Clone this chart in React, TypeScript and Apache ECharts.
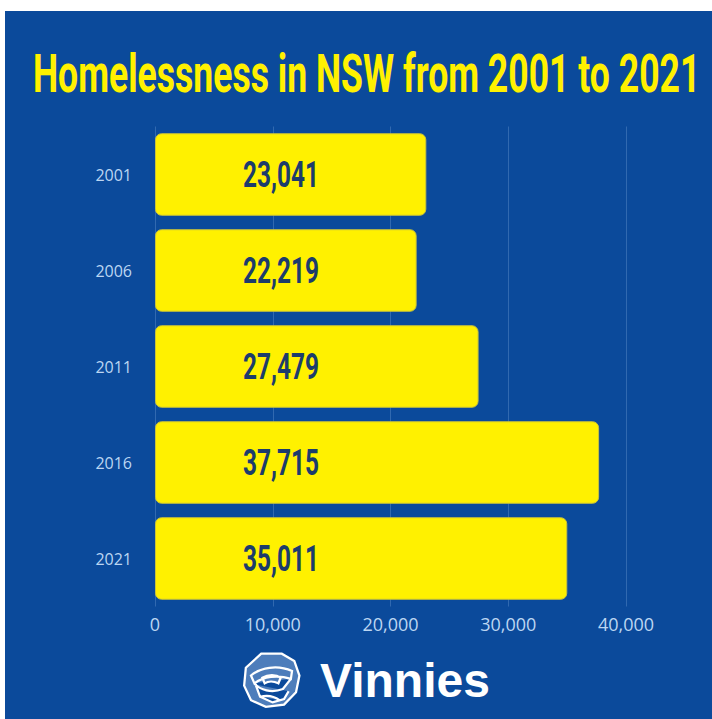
import React, { useEffect, useRef } from "react";
import * as echarts from "echarts";

const years = ["2001", "2006", "2011", "2016", "2021"];
const homeless = [23041, 22219, 27479, 37715, 35011];
const xTicks = [0, 10000, 20000, 30000, 40000];
const titleText = "Homelessness in NSW from 2001 to 2021";
const brandText = "Vinnies";

const BLUE = "#0b4a9b";
const YELLOW = "#fff100";
const NAVY = "#1c3c6c";
const TICK = "#bcd6f2";

const LOGO_D =
  "M32 3 L68 3 L90 16 L99 42 L93 72 L72 94 L40 98 L14 86 L2 60 L5 28 Z " +
  "M14 42 C30 28 60 22 86 34 L84 48 C60 40 36 44 20 56 Z " +
  "M34 46 C44 40 58 40 66 46 L62 56 C54 52 44 52 38 56 Z " +
  "M20 56 C30 68 50 74 70 66 L84 48 " +
  "M22 58 L30 80 L52 90 L72 84 L80 70 " +
  "M30 80 C44 76 56 80 64 86";

echarts.graphic.registerShape("logo", echarts.graphic.extendPath(LOGO_D, {}));

function measure(text: string, font: string): number {
  const ctx = document.createElement("canvas").getContext("2d");
  if (!ctx) return 1;
  ctx.font = font;
  return ctx.measureText(text).width || 1;
}

const fmt = (v: number) => v.toLocaleString("en-US");

export default function App() {
  const ref = useRef<HTMLDivElement>(null);
  useEffect(() => {
    if (!ref.current) return;
    const chart = echarts.init(ref.current, null, { renderer: "svg" });

    const titleFont = "bold 53px Roboto";
    const titleScale = 667 / measure(titleText, titleFont);
    const labelFont = "bold 37px Roboto";
    const labelScale = 76 / measure("23,041", labelFont);

    const option: any = {
      animation: false,
      backgroundColor: "#ffffff",
      grid: { left: 155, right: 86, top: 126.5, bottom: 112.5, containLabel: false },
      xAxis: {
        type: "value",
        min: xTicks[0],
        max: xTicks[xTicks.length - 1],
        interval: xTicks[1] - xTicks[0],
        axisLine: { show: false },
        axisTick: { show: false },
        splitLine: { show: true, lineStyle: { color: "rgba(150,185,230,0.28)", width: 1 } },
        axisLabel: {
          color: TICK,
          fontSize: 18,
          fontFamily: "Open Sans",
          margin: 8,
          formatter: (v: number) => fmt(v),
        },
      },
      yAxis: {
        type: "category",
        data: years,
        inverse: true,
        axisLine: { show: false },
        axisTick: { show: false },
        axisLabel: { color: TICK, fontSize: 16, fontFamily: "Open Sans", margin: 23 },
      },
      graphic: [
        {
          type: "rect",
          z: -10,
          silent: true,
          shape: { x: 5, y: 11, width: 712, height: 719 },
          style: { fill: BLUE },
        },
        {
          type: "text",
          x: 33,
          y: 74,
          scaleX: titleScale,
          style: {
            text: titleText,
            font: titleFont,
            fill: YELLOW,
            textVerticalAlign: "middle",
          },
        },
        {
          type: "logo",
          x: 243,
          y: 652,
          scaleX: 0.57,
          scaleY: 0.56,
          style: { fill: "rgba(200,220,245,0.35)", stroke: "#ffffff", lineWidth: 4 },
        },
        {
          type: "text",
          x: 320,
          y: 680,
          style: {
            text: brandText,
            font: "bold 48px 'Liberation Sans', Arial, sans-serif",
            fill: "#ffffff",
            textVerticalAlign: "middle",
          },
        },
      ],
      series: [
        {
          type: "bar",
          data: homeless,
          barCategoryGap: "14%",
          itemStyle: {
            color: YELLOW,
            borderRadius: 6,
            borderColor: "#c9c23a",
            borderWidth: 1,
          },
          z: 2,
        },
        {
          type: "custom",
          data: homeless.map((v, i) => [0, i, v]),
          encode: { x: 0, y: 1 },
          z: 5,
          renderItem: (params: any, api: any) => {
            const p = api.coord([0, api.value(1)]);
            return {
              type: "text",
              x: p[0] + 88,
              y: p[1],
              scaleX: labelScale,
              style: {
                text: fmt(api.value(2)),
                font: labelFont,
                fill: NAVY,
                textVerticalAlign: "middle",
              },
            };
          },
        },
      ],
    };
    chart.setOption(option);
    return () => chart.dispose();
  }, []);
  return (
    <div
      ref={ref}
      style={{ position: "fixed", left: 0, top: 0, width: 712, height: 719 }}
    />
  );
}
